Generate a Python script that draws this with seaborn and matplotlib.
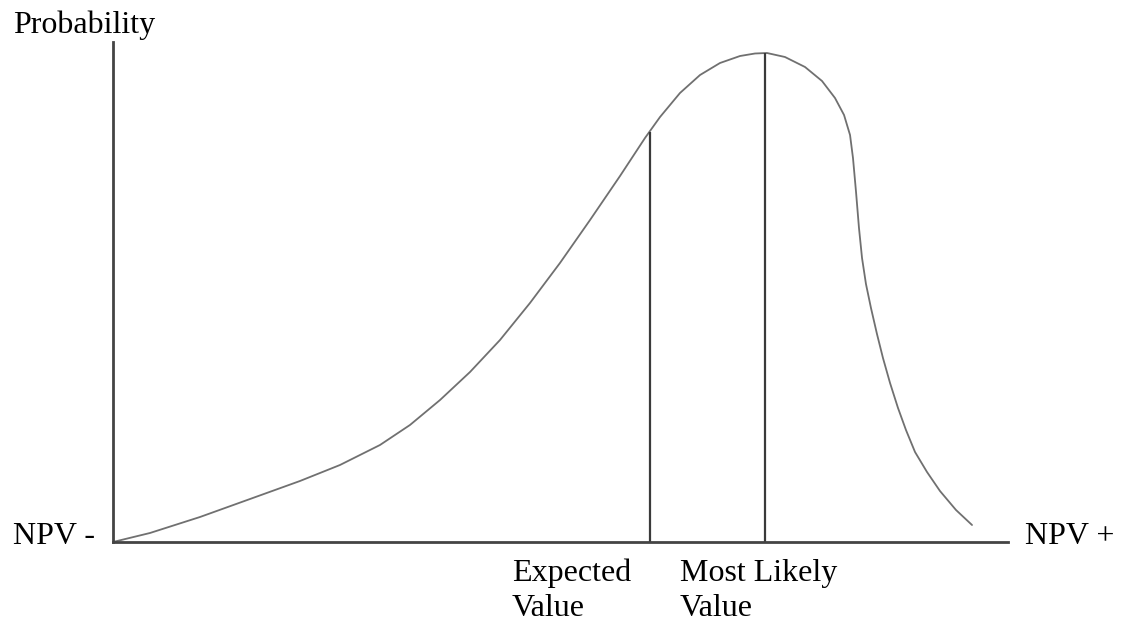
import matplotlib
matplotlib.use("Agg")
import matplotlib.pyplot as plt
import seaborn as sns
import pandas as pd

# hand-drawn NPV distribution (axes 0-100)
npv = [0.00, 4.13, 9.72, 15.31, 20.89, 25.36, 29.83, 33.18, 36.54, 39.89,
       43.24, 46.59, 49.94, 53.30, 56.65, 59.44, 61.12, 63.35, 65.59, 67.82,
       70.06, 71.73, 73.07, 75.08, 77.32, 79.22, 80.67, 81.68, 82.35, 82.68,
       83.02, 83.35, 83.69, 84.13, 84.69, 85.36, 86.03, 86.82, 87.71, 88.60,
       89.61, 90.95, 92.40, 94.19, 95.98]
prob = [0.0, 1.8, 5.0, 8.6, 12.2, 15.4, 19.4, 23.4, 28.4, 34.0,
        40.4, 47.8, 55.8, 64.4, 73.2, 80.8, 85.0, 89.8, 93.4, 95.8,
        97.2, 97.7, 97.8, 97.0, 95.0, 92.2, 88.8, 85.4, 81.4, 76.8,
        70.0, 62.8, 56.8, 51.6, 46.8, 41.6, 36.8, 31.8, 26.8, 22.4,
        18.0, 14.0, 10.2, 6.4, 3.4]

marker_x = [60.0, 72.9]
marker_top = [82.0, 97.8]
marker_labels = ["Expected\nValue", "Most Likely\nValue"]

y_label = "Probability"
x_left_label = "NPV -"
x_right_label = "NPV +"

sns.set_style("white")
plt.rcParams['font.family'] = ['Liberation Serif', 'DejaVu Serif']

W, H = 1121, 622
fig = plt.figure(figsize=(W / 100, H / 100), dpi=100)
# axes placed where the sketch puts its origin and axis ends
ax = fig.add_axes([113 / W, (H - 542) / H, 895 / W, 500 / H])

df = pd.DataFrame({"npv": npv, "prob": prob})
sns.lineplot(data=df, x="npv", y="prob", sort=False, estimator=None,
             color="#707070", linewidth=1.3, ax=ax)

ax.vlines(marker_x, 0, marker_top, color="#3a3a3a", linewidth=1.6)

ax.set_xlim(0, 100)
ax.set_ylim(0, 100)
ax.set_xticks([])
ax.set_yticks([])
ax.set_xlabel("")
ax.set_ylabel("")
for side in ["top", "right"]:
    ax.spines[side].set_visible(False)
for side in ["left", "bottom"]:
    ax.spines[side].set_color("#444444")
    ax.spines[side].set_linewidth(2)

fs = 23
txt = dict(fontsize=fs, ha="left", va="center", color="black")
fig.text(13 / W, 1 - 25 / H, y_label, **txt)
fig.text(13 / W, 1 - 537 / H, x_left_label, **txt)
fig.text(1025 / W, 1 - 537 / H, x_right_label, **txt)

label_left = [512, 680]
for xl, lab in zip(label_left, marker_labels):
    fig.text(xl / W, 1 - 591 / H, lab, linespacing=1.25, **txt)

fig.savefig("out.png", dpi=100, facecolor="white")
